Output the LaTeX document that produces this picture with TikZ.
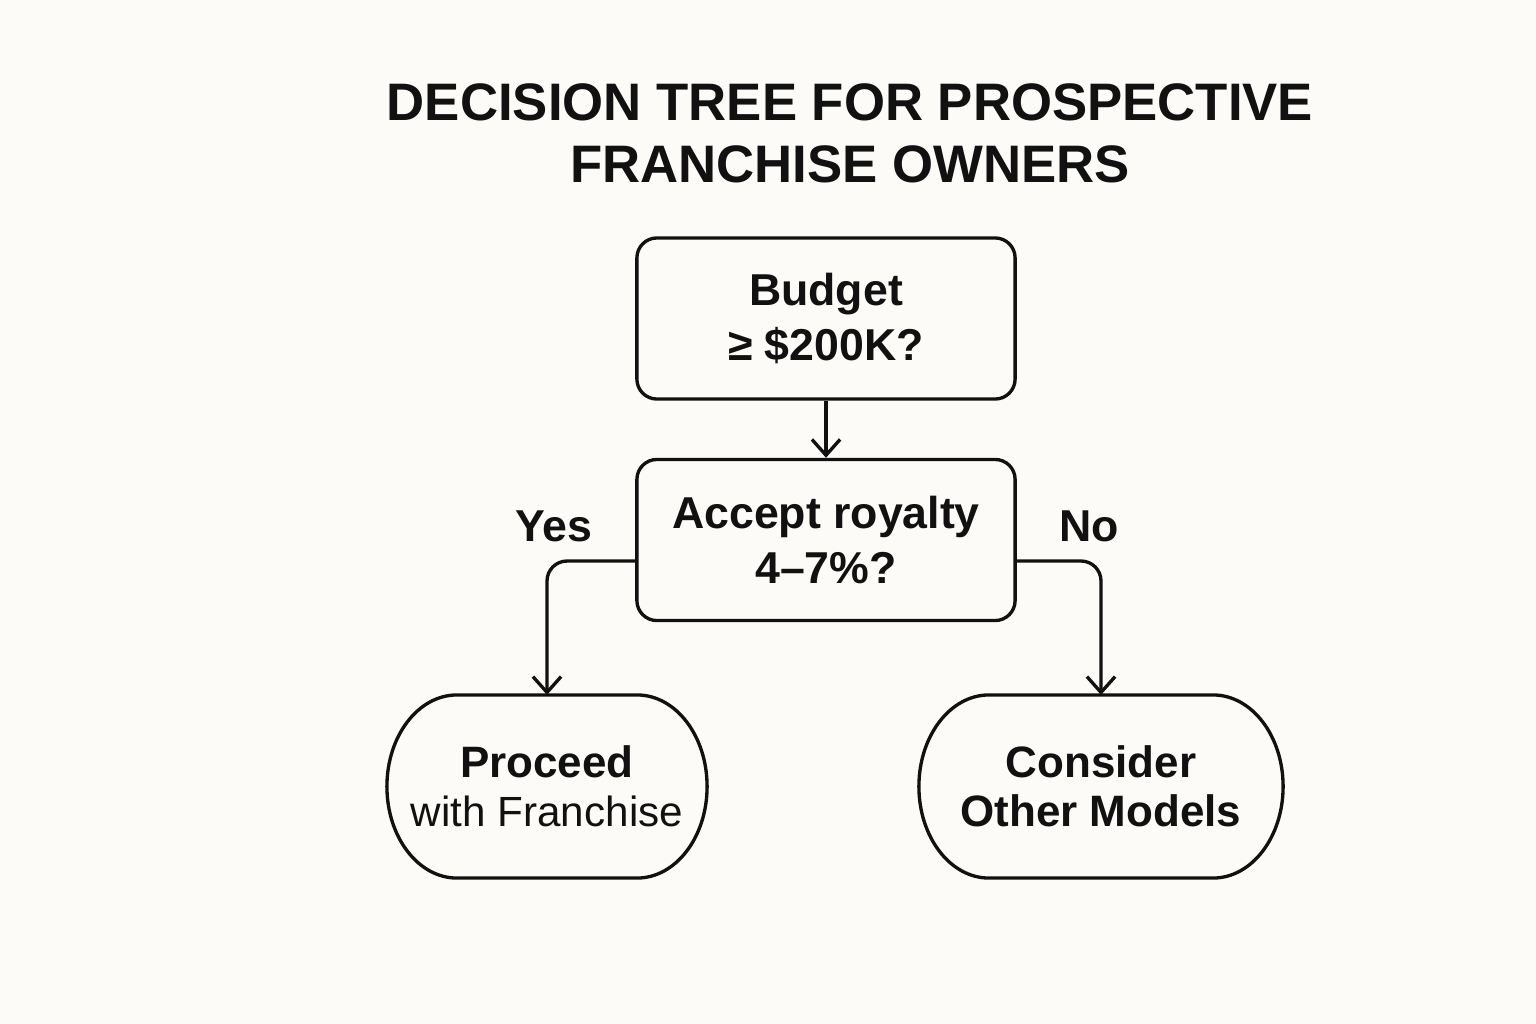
\documentclass[tikz,border=0pt]{standalone}
\usepackage{fontspec}
\setmainfont{Liberation Sans}
\usetikzlibrary{arrows.meta}
\definecolor{bg}{RGB}{252,251,248}
\definecolor{ink}{RGB}{17,17,17}
\begin{document}
\begin{tikzpicture}[x=0.01cm,y=-0.01cm,
  box/.style={draw=ink, line width=0.95pt, rounded corners=0.2cm,
    minimum width=3.78cm, minimum height=1.61cm, align=center, inner sep=0pt,
    text=ink, font=\fontsize{12.7}{15.6}\selectfont\bfseries},
  leaf/.style={minimum height=1.83cm, align=center, inner sep=0pt, outer sep=0pt, text=ink},
  conn/.style={draw=ink, line width=0.95pt, rounded corners=0.2cm,
    -{Straight Barb[length=4.5pt,width=8pt,line width=0.95pt]}},
  lbl/.style={inner sep=0pt, text=ink, font=\fontsize{12.7}{15}\selectfont\bfseries},
  outline/.style={draw=ink, line width=0.95pt, line join=round}]
\fill[bg] (0,0) rectangle (1536,1024);
\useasboundingbox (0,0) rectangle (1536,1024);

\node[align=center, inner sep=0pt, text=ink,
  font=\fontsize{15}{17.6}\selectfont\bfseries] (title) at (850,133)
  {DECISION TREE FOR PROSPECTIVE\\FRANCHISE OWNERS};

\node[box] (b1) at (826,318.5) {Budget\\≥ \$200K?};
\node[box] (b2) at (826,540) {Accept royalty\\4–7\%?};

\node[leaf, minimum width=3.2cm, font=\fontsize{12}{14}\selectfont] (l1) at (547,786.5)
  {{\fontsize{12.5}{14}\selectfont\bfseries Proceed}\\with Franchise};
\node[leaf, minimum width=3.64cm, font=\fontsize{12.5}{14}\selectfont\bfseries] (l2) at (1101,786.5)
  {Consider\\Other Models};

\draw[outline] ([xshift=0.7cm]l1.north west) -- ([xshift=-0.7cm]l1.north east)
  arc[start angle=90, end angle=-90, x radius=0.7cm, y radius=0.915cm]
  -- ([xshift=0.7cm]l1.south west)
  arc[start angle=270, end angle=90, x radius=0.7cm, y radius=0.915cm] -- cycle;
\draw[outline] ([xshift=0.7cm]l2.north west) -- ([xshift=-0.7cm]l2.north east)
  arc[start angle=90, end angle=-90, x radius=0.7cm, y radius=0.915cm]
  -- ([xshift=0.7cm]l2.south west)
  arc[start angle=270, end angle=90, x radius=0.7cm, y radius=0.915cm] -- cycle;

\draw[conn] (b1.south) -- (b2.north);
\draw[conn] ([yshift=-0.21cm]b2.west) -| (l1.north);
\draw[conn] ([yshift=-0.21cm]b2.east) -| (l2.north);

\node[lbl] (yes) at (554,526) {Yes};
\node[lbl] (no) at (1089,526) {No};
\end{tikzpicture}
\end{document}
